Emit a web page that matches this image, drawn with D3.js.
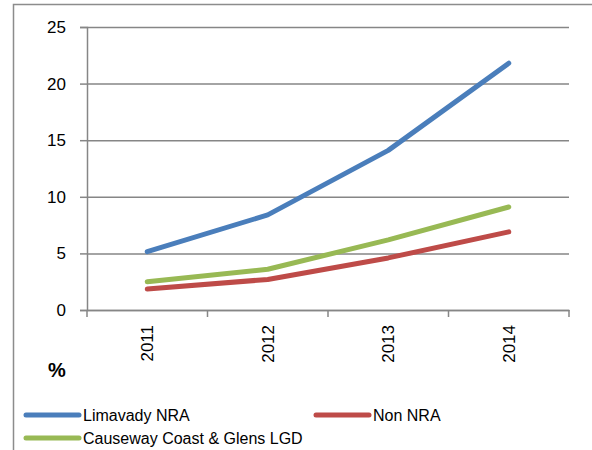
<!DOCTYPE html>
<html>
<head>
<meta charset="utf-8">
<script src="https://cdn.jsdelivr.net/npm/d3@7"></script>
<style>
  body { margin: 0; background: #fff; }
  text { font-family: "Liberation Sans", Arial, sans-serif; fill: #000; }
</style>
</head>
<body>
<script>
// chart data
const years = ['2011', '2012', '2013', '2014'];
const limavady = [5.15, 8.4, 14.1, 21.8];
const nonNra = [1.85, 2.7, 4.6, 6.9];
const causeway = [2.5, 3.6, 6.2, 9.1];
const yTicks = [0, 5, 10, 15, 20, 25];

const w = 592;
const h = 450;
const plotLeft = 87, plotRight = 569, plotTop = 27, plotBottom = 310;

let series = [
  { name: 'Limavady NRA', values: limavady, color: '#4a7ebb' },
  { name: 'Non NRA', values: nonNra, color: '#be4b48' },
  { name: 'Causeway Coast & Glens LGD', values: causeway, color: '#98b954' },
];

let svg = d3.select('body').append('svg').attr('width', w).attr('height', h);

// outer frame
svg
  .append('rect')
  .attr('x', 13.5)
  .attr('y', 4.5)
  .attr('width', 700)
  .attr('height', 600)
  .attr('fill', 'none')
  .attr('stroke', '#8c8c8c')
  .attr('stroke-width', 1.5);

let x = d3.scaleBand().domain(years).range([plotLeft, plotRight]);
let y = d3.scaleLinear().domain([0, 25]).range([plotBottom, plotTop]);

// gridlines + y axis
let yAxis = svg
  .append('g')
  .attr('transform', `translate(${plotLeft},0)`)
  .call(d3.axisLeft(y).tickValues(yTicks).tickSize(7).tickPadding(14));
yAxis.select('.domain').attr('stroke', '#868686').attr('stroke-width', 1.5);
yAxis.selectAll('.tick line').attr('stroke', '#868686').attr('stroke-width', 1.5);
yAxis.selectAll('.tick text').attr('font-size', 17);
yAxis.selectAll('.tick')
  .append('line')
  .attr('x2', plotRight - plotLeft)
  .attr('stroke', '#868686')
  .attr('stroke-width', 1.5);

// x axis
let xAxis = svg
  .append('g')
  .attr('transform', `translate(0,${plotBottom})`)
  .call(d3.axisBottom(x).tickSize(0).tickSizeOuter(0));
xAxis.select('.domain').attr('stroke', '#868686').attr('stroke-width', 1.5);
xAxis.selectAll('.tick text')
  .attr('font-size', 17)
  .attr('transform', 'rotate(-90)')
  .attr('text-anchor', 'end')
  .attr('x', -15)
  .attr('y', 0)
  .attr('dy', '0.35em');

// category tick marks at band edges
svg
  .append('g')
  .selectAll('line')
  .data(years.concat(['end']))
  .enter()
  .append('line')
  .attr('x1', (d, i) => plotLeft + i * x.bandwidth())
  .attr('x2', (d, i) => plotLeft + i * x.bandwidth())
  .attr('y1', plotBottom)
  .attr('y2', plotBottom + 7)
  .attr('stroke', '#868686')
  .attr('stroke-width', 1.5);

// lines
let line = d3
  .line()
  .x((d, i) => x(years[i]) + x.bandwidth() / 2)
  .y((d) => y(d));

svg
  .selectAll('path.series')
  .data(series)
  .enter()
  .append('path')
  .attr('class', 'series')
  .attr('d', (d) => line(d.values))
  .attr('fill', 'none')
  .attr('stroke', (d) => d.color)
  .attr('stroke-width', 5)
  .attr('stroke-linejoin', 'round')
  .attr('stroke-linecap', 'round');

// unit label
svg
  .append('text')
  .attr('x', 57)
  .attr('y', 377)
  .attr('text-anchor', 'middle')
  .attr('font-size', 20)
  .attr('font-weight', 'bold')
  .text('%');

// legend
let legendPos = [
  { x: 26, y: 415 },
  { x: 316, y: 415 },
  { x: 26, y: 438 },
];
let legend = svg
  .selectAll('g.legend')
  .data(series)
  .enter()
  .append('g')
  .attr('class', 'legend')
  .attr('transform', (d, i) => `translate(${legendPos[i].x},${legendPos[i].y})`);
legend
  .append('line')
  .attr('x1', 0)
  .attr('x2', 53)
  .attr('stroke', (d) => d.color)
  .attr('stroke-width', 5)
  .attr('stroke-linecap', 'round');
legend
  .append('text')
  .attr('x', 57)
  .attr('dy', '0.35em')
  .attr('font-size', 16)
  .text((d) => d.name);
</script>
</body>
</html>
